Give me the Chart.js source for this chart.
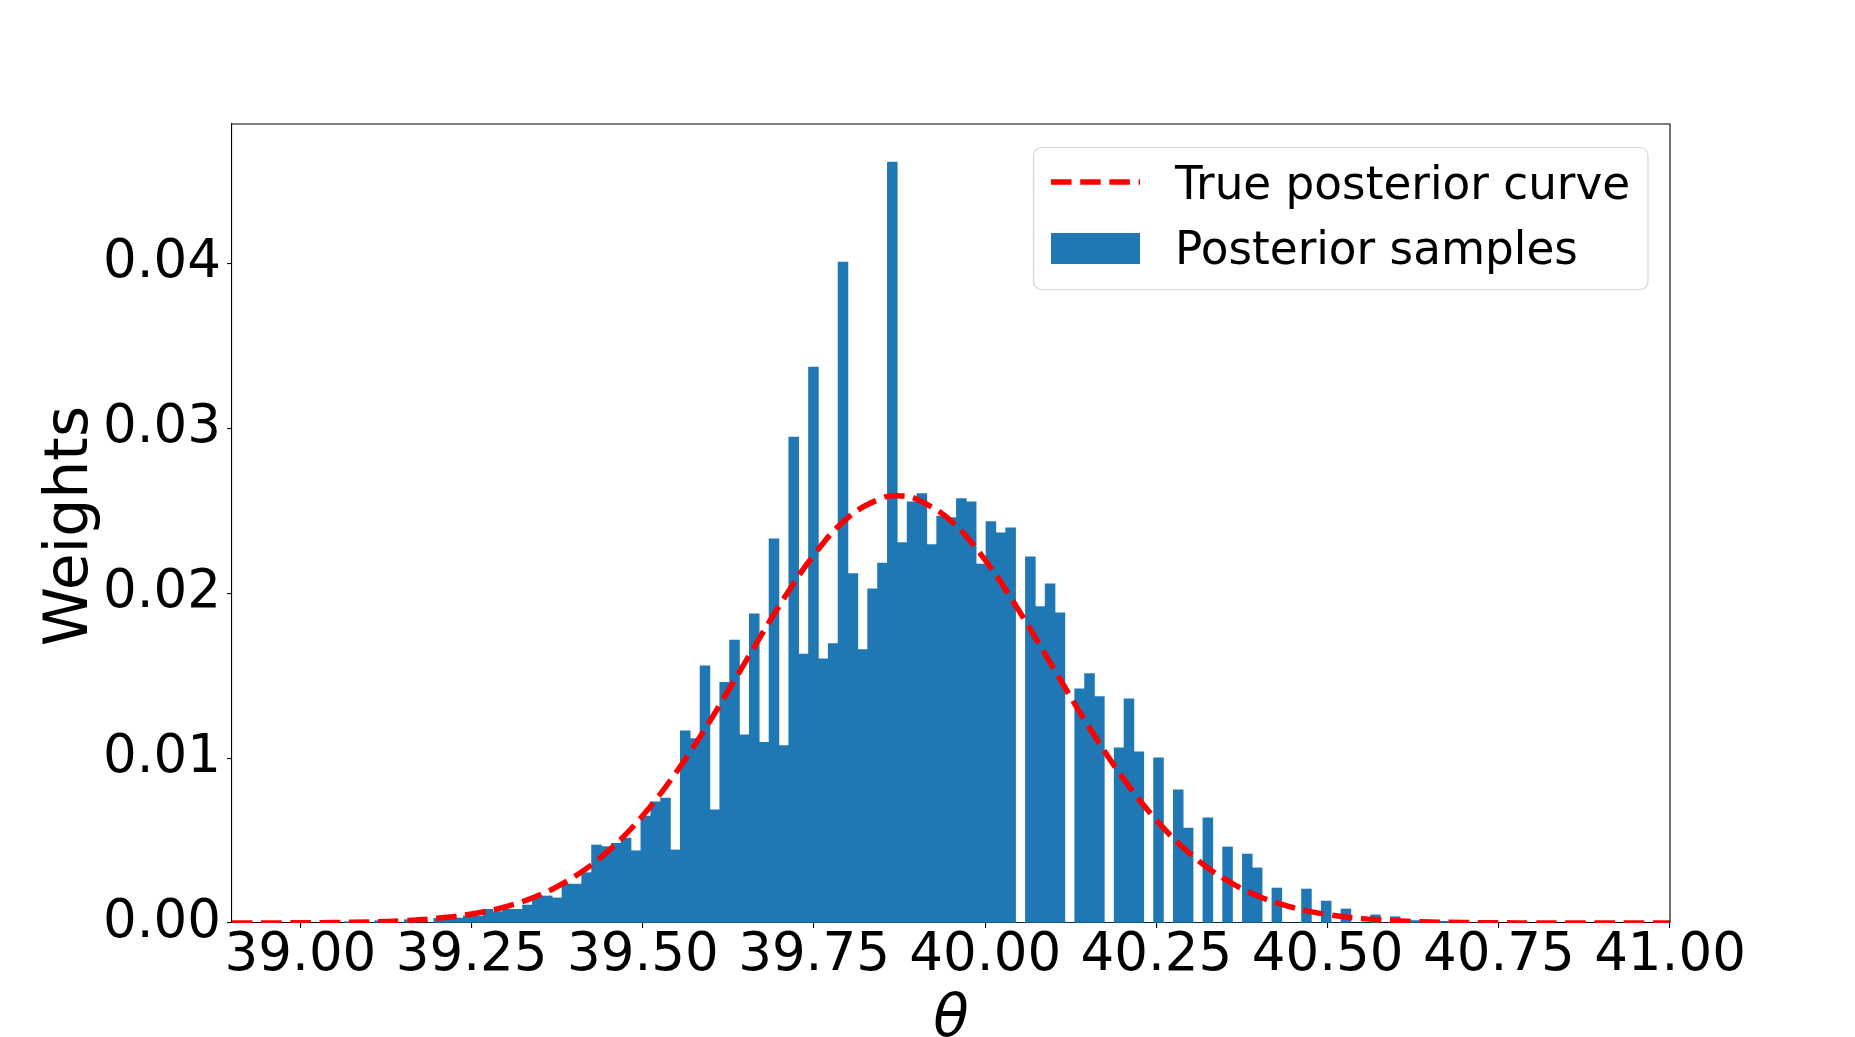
<!DOCTYPE html>
<html>
<head>
<meta charset="utf-8">
<script src="https://cdn.jsdelivr.net/npm/chart.js@4.4.1/dist/chart.umd.min.js"></script>
<style>
  html, body { margin: 0; padding: 0; background: #fff; }
  canvas { display: block; }
</style>
</head>
<body>
<canvas id="histChart" width="1855" height="1037"></canvas>
<script>
// Histogram bin centres (theta)
const binCenters = [
    39.0723, 39.0867, 39.1011, 39.1155, 39.1299, 39.1443, 39.1587, 39.1731, 39.1875, 39.2019,
    39.2163, 39.2307, 39.2451, 39.2595, 39.2739, 39.2883, 39.3027, 39.3171, 39.3315, 39.3459,
    39.3603, 39.3747, 39.3891, 39.4035, 39.4179, 39.4323, 39.4467, 39.4611, 39.4755, 39.4899,
    39.5043, 39.5187, 39.5331, 39.5475, 39.5619, 39.5763, 39.5907, 39.6051, 39.6195, 39.6339,
    39.6483, 39.6627, 39.6771, 39.6915, 39.7059, 39.7203, 39.7347, 39.7491, 39.7635, 39.7779,
    39.7923, 39.8067, 39.8211, 39.8355, 39.8499, 39.8643, 39.8787, 39.8931, 39.9075, 39.9219,
    39.9363, 39.9507, 39.9651, 39.9795, 39.9939, 40.0083, 40.0227, 40.0371, 40.0515, 40.0659,
    40.0803, 40.0947, 40.1091, 40.1235, 40.1379, 40.1523, 40.1667, 40.1811, 40.1955, 40.2099,
    40.2243, 40.2387, 40.2531, 40.2675, 40.2819, 40.2963, 40.3107, 40.3251, 40.3395, 40.3539,
    40.3683, 40.3827, 40.3971, 40.4115, 40.4259, 40.4403, 40.4547, 40.4691, 40.4835, 40.4979,
    40.5123, 40.5267, 40.5411, 40.5555, 40.5699, 40.5843, 40.5987, 40.6131, 40.6275, 40.6419,
    40.6563, 40.6707, 40.6851, 40.6995, 40.7139, 40.7283
];

// Posterior sample weights per bin
const sampleWeights = [
    0.00008, 0, 0, 0.00014, 0, 0, 0.0002, 0, 0, 0.00028,
    0.00022, 0.0003, 0.00044, 0.00042, 0.00083, 0.00069, 0.00083, 0.00083, 0.00109, 0.00164,
    0.00164, 0.00152, 0.00236, 0.00236, 0.00305, 0.00473, 0.00463, 0.00483, 0.00515, 0.00438,
    0.00649, 0.00734, 0.00758, 0.00443, 0.01165, 0.01118, 0.01559, 0.00687, 0.0146, 0.01716,
    0.01141, 0.01874, 0.01095, 0.02329, 0.01076, 0.02947, 0.0163, 0.03371, 0.01602, 0.01695,
    0.04008, 0.02119, 0.01658, 0.02026, 0.02183, 0.04614, 0.02307, 0.02554, 0.02604, 0.02295,
    0.02468, 0.02458, 0.02573, 0.02554, 0.02177, 0.02434, 0.02366, 0.02397, 0, 0.02221,
    0.01918, 0.02057, 0.01881, 0, 0.0142, 0.01512, 0.01373, 0, 0.01062, 0.0136,
    0.01038, 0, 0.01001, 0, 0.00807, 0.00576, 0, 0.00637, 0, 0.00461,
    0, 0.00418, 0.00334, 0, 0.00212, 0, 0, 0.00206, 0, 0.00133,
    0, 0.00085, 0, 0, 0.00049, 0, 0.00038, 0, 0.00015, 0,
    0, 0.0001, 0, 0, 0, 0.00008
];

// True posterior curve
const curveX = [
    38.90, 38.95, 39.00, 39.05, 39.10, 39.15, 39.20, 39.25, 39.30, 39.35,
    39.40, 39.45, 39.50, 39.55, 39.60, 39.65, 39.70, 39.75, 39.80, 39.85,
    39.875, 39.90, 39.95, 40.00, 40.05, 40.10, 40.15, 40.20, 40.25, 40.30,
    40.35, 40.40, 40.45, 40.50, 40.55, 40.60, 40.65, 40.70, 40.75, 40.80,
    40.85, 40.90, 40.95, 41.00
];
const curveY = [
    0.000002, 0.000005, 0.000013, 0.000031, 0.000068, 0.000143, 0.000288, 0.000548, 0.000994, 0.001715,
    0.002813, 0.00439, 0.006522, 0.009218, 0.01239, 0.01585, 0.01929, 0.02233, 0.0246, 0.02578,
    0.0259, 0.0257, 0.02438, 0.022, 0.01889, 0.01543, 0.01199, 0.008866, 0.006236, 0.004173,
    0.002657, 0.00161, 0.000928, 0.000509, 0.000265, 0.000132, 0.000062, 0.000028, 0.000012, 0.000005,
    0.000002, 0.000001, 0, 0
];

// Axis ticks
const xTickValues = [39.00, 39.25, 39.50, 39.75, 40.00, 40.25, 40.50, 40.75, 41.00];
const xTickLabels = ['39.00', '39.25', '39.50', '39.75', '40.00', '40.25', '40.50', '40.75', '41.00'];
const yTickValues = [0, 0.01, 0.02, 0.03, 0.04];
const yTickLabels = ['0.00', '0.01', '0.02', '0.03', '0.04'];

const FONT = 'DejaVu Sans';

// frame, axis titles and legend
const decorPlugin = {
    id: 'decor',
    afterDraw(chart) {
        const ctx = chart.ctx;
        const a = chart.chartArea;
        ctx.save();

        // top and right spines
        ctx.strokeStyle = '#000';
        ctx.lineWidth = 1.1;
        ctx.beginPath();
        ctx.moveTo(a.left, a.top);
        ctx.lineTo(a.right, a.top);
        ctx.lineTo(a.right, a.bottom);
        ctx.stroke();

        // axis titles
        ctx.fillStyle = '#000';
        ctx.font = 'italic 58px ' + FONT;
        ctx.textAlign = 'center';
        ctx.textBaseline = 'alphabetic';
        ctx.fillText('\u03B8', (a.left + a.right) / 2, 1036);

        ctx.save();
        ctx.translate(71, 526);
        ctx.rotate(-Math.PI / 2);
        ctx.font = '60px ' + FONT;
        ctx.textBaseline = 'middle';
        ctx.fillText('Weights', 0, 0);
        ctx.restore();

        // legend box
        const bx = 1033.5, by = 147.5, bw = 614.5, bh = 142, r = 8;
        ctx.beginPath();
        ctx.moveTo(bx + r, by);
        ctx.arcTo(bx + bw, by, bx + bw, by + bh, r);
        ctx.arcTo(bx + bw, by + bh, bx, by + bh, r);
        ctx.arcTo(bx, by + bh, bx, by, r);
        ctx.arcTo(bx, by, bx + bw, by, r);
        ctx.closePath();
        ctx.fillStyle = 'rgba(255,255,255,0.8)';
        ctx.fill();
        ctx.strokeStyle = '#d6d6d6';
        ctx.lineWidth = 1.2;
        ctx.stroke();

        ctx.strokeStyle = '#ff0000';
        ctx.lineWidth = 5.5;
        ctx.setLineDash([20.5, 8.7]);
        ctx.beginPath();
        ctx.moveTo(1051, 182);
        ctx.lineTo(1140, 182);
        ctx.stroke();
        ctx.setLineDash([]);

        ctx.fillStyle = '#1f77b4';
        ctx.fillRect(1051, 233, 89, 31);

        ctx.fillStyle = '#000';
        ctx.font = '45.3px ' + FONT;
        ctx.textAlign = 'left';
        ctx.textBaseline = 'alphabetic';
        ctx.fillText('True posterior curve', 1175, 199);
        ctx.fillText('Posterior samples', 1175, 264);

        ctx.restore();
    }
};

function createHistChart() {
    const ctx = document.getElementById('histChart').getContext('2d');
    return new Chart(ctx, {
        type: 'bar',
        data: {
            datasets: [{
                type: 'line',
                label: 'True posterior curve',
                data: curveX.map((x, i) => ({ x: x, y: curveY[i] })),
                borderColor: '#ff0000',
                borderWidth: 5.5,
                borderDash: [20.5, 8.7],
                pointRadius: 0,
                tension: 0.4,
                fill: false,
                clip: 0,
                order: 0
            }, {
                type: 'bar',
                label: 'Posterior samples',
                data: binCenters.map((x, i) => ({ x: x, y: sampleWeights[i] })),
                backgroundColor: '#1f77b4',
                borderWidth: 0,
                barPercentage: 1.0,
                categoryPercentage: 1.0,
                order: 1
            }]
        },
        options: {
            responsive: false,
            animation: false,
            devicePixelRatio: 1,
            layout: {
                padding: { left: 0, top: 124, right: 185, bottom: 0 }
            },
            plugins: {
                legend: { display: false },
                tooltip: { enabled: false }
            },
            scales: {
                x: {
                    type: 'linear',
                    min: 38.9,
                    max: 41.0,
                    offset: false,
                    afterBuildTicks: scale => {
                        scale.ticks = xTickValues.map(v => ({ value: v }));
                    },
                    afterFit: scale => { scale.height = 114; },
                    grid: {
                        display: true,
                        offset: false,
                        drawOnChartArea: false,
                        drawTicks: true,
                        tickLength: 5,
                        color: '#000',
                        lineWidth: 1.1
                    },
                    border: { display: true, color: '#000', width: 1.1 },
                    ticks: {
                        autoSkip: false,
                        maxRotation: 0,
                        padding: 2,
                        color: '#000',
                        font: { family: FONT, size: 53, lineHeight: 1 },
                        callback: (value, index) => xTickLabels[index]
                    }
                },
                y: {
                    type: 'linear',
                    min: 0,
                    max: 0.04845,
                    afterBuildTicks: scale => {
                        scale.ticks = yTickValues.map(v => ({ value: v }));
                    },
                    afterFit: scale => { scale.width = 232; },
                    grid: {
                        display: true,
                        offset: false,
                        drawOnChartArea: false,
                        drawTicks: true,
                        tickLength: 5,
                        color: '#000',
                        lineWidth: 1.1
                    },
                    border: { display: true, color: '#000', width: 1.1 },
                    ticks: {
                        padding: 6,
                        color: '#000',
                        font: { family: FONT, size: 53, lineHeight: 1 },
                        callback: (value, index) => yTickLabels[index]
                    }
                }
            }
        },
        plugins: [decorPlugin]
    });
}

createHistChart();
</script>
</body>
</html>
